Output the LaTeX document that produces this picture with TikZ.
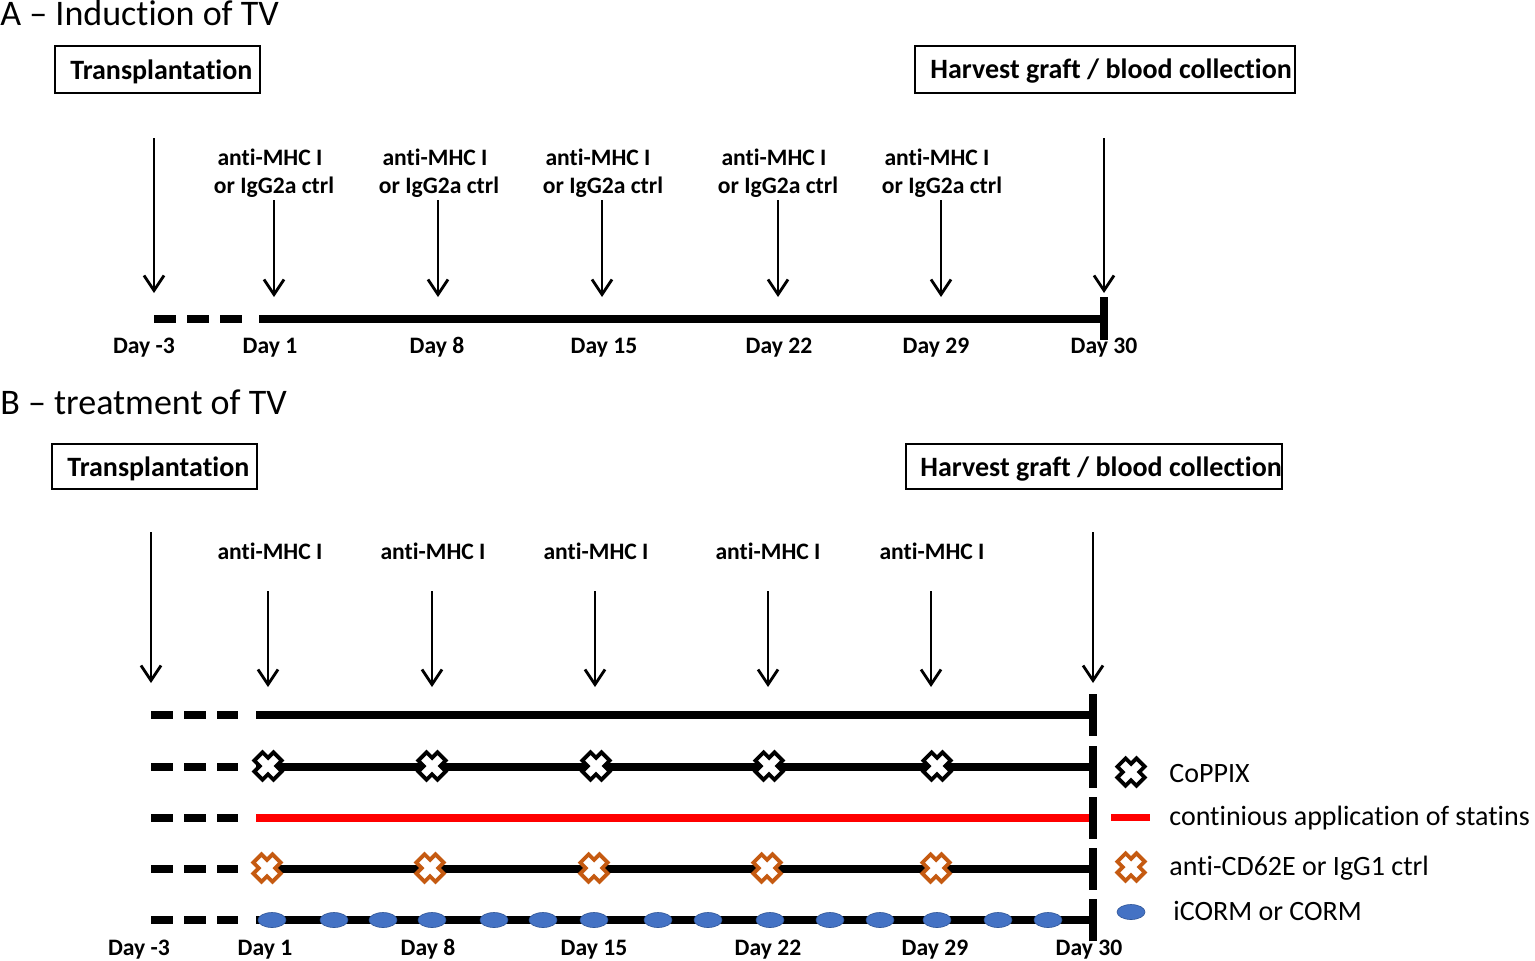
\documentclass[tikz,border=0pt]{standalone}
\usepackage{fontspec}
\setmainfont{Carlito}[Ligatures=NoCommon]
\usetikzlibrary{arrows.meta}
\definecolor{orng}{HTML}{C55A11}
\definecolor{blu}{HTML}{4472C4}
\definecolor{bluedge}{HTML}{2F5597}
\definecolor{statred}{HTML}{FF0000}
\tikzset{
  ttl/.style={font=\fontsize{18pt}{20pt}\selectfont, anchor=base west, inner sep=0},
  bx/.style={draw, line width=0.75pt, inner sep=0, minimum height=23.5pt},
  bxt/.style={font=\bfseries\fontsize{14pt}{16pt}\selectfont, anchor=base west, inner sep=0},
  lbl/.style={font=\bfseries\fontsize{11.8pt}{13pt}\selectfont, anchor=base, inner sep=0},
  leg/.style={font=\fontsize{14pt}{16pt}\selectfont, anchor=base west, inner sep=0},
  arr/.style={line width=1.1pt, -{Straight Barb[length=7.5pt,width=10pt,line width=1.4pt]}},
  tl/.style={line width=4pt},
  dsh/.style={line width=4pt, dash pattern=on 11pt off 5.5pt},
  tickmark/.style={line width=4pt},
  dot/.style={fill=blu, draw=bluedge, line width=0.3pt},
  xmk/.pic={\path[pic actions, line width=1.9pt, fill=white, rotate=45, line join=miter]
     (5.8,5.8) -- (5.8,13.5) -- (-5.8,13.5) -- (-5.8,5.8) -- (-13.5,5.8) -- (-13.5,-5.8)
     -- (-5.8,-5.8) -- (-5.8,-13.5) -- (5.8,-13.5) -- (5.8,-5.8) -- (13.5,-5.8) -- (13.5,5.8) -- cycle;}
}
\begin{document}
\begin{tikzpicture}[x=0.5pt,y=-0.5pt]
\useasboundingbox (0,0) rectangle (1535,960);

% ================= Panel A =================
\node[ttl] (tA) at (0,25) {A – Induction of TV};
\node[bx, minimum width=102.5pt] (trA) at (157.5,69.5) {};
\node[bxt] (trAt) at (70,79) {Transplantation};
\node[bx, minimum width=190pt] (hvA) at (1105,69.5) {};
\node[bxt] (hvAt) at (930,78) {Harvest graft / blood collection};

\coordinate (a0t) at (154,138); \coordinate (a0b) at (154,293);
\coordinate (a30t) at (1104,138); \coordinate (a30b) at (1104,293);
\draw[arr] (a0t) -- (a0b);
\draw[arr] (a30t) -- (a30b);

\foreach \i/\xa/\xl/\xo in {1/274/270/274, 2/438/435/439, 3/602/598/603, 4/778/774/778, 5/941/937/942}{
  \node[lbl] (mA\i) at (\xl,165) {anti-MHC I};
  \node[lbl] (oA\i) at (\xo,193) {or IgG2a ctrl};
  \coordinate (mAt\i) at (\xa,200);
  \coordinate (mAb\i) at (\xa,297);
  \draw[arr] (mAt\i) -- (mAb\i);
}

\coordinate (lAd0) at (154,319); \coordinate (lAd1) at (245,319);
\coordinate (lAs0) at (259,319); \coordinate (lAs1) at (1104,319);
\draw[dsh] (lAd0) -- (lAd1);
\draw[tl] (lAs0) -- (lAs1);
\draw[tickmark] (1104,297) -- (1104,340);

\foreach \i/\x/\t in {0/144/Day -3, 1/270/Day 1, 2/437/Day 8, 3/604/Day 15, 4/779/Day 22, 5/936/Day 29, 6/1104/Day 30}{
  \node[lbl] (dA\i) at (\x,353) {\t};
}

% ================= Panel B =================
\node[ttl] (tB) at (0,414) {B – treatment of TV};
\node[bx, minimum width=102.5pt, minimum height=22.5pt] (trB) at (154.5,466.5) {};
\node[bxt] (trBt) at (67,476) {Transplantation};
\node[bx, minimum width=188pt, minimum height=22.5pt] (hvB) at (1094,466.5) {};
\node[bxt] (hvBt) at (920,476) {Harvest graft / blood collection};

\coordinate (b0t) at (151,532); \coordinate (b0b) at (151,683);
\coordinate (b30t) at (1093,532); \coordinate (b30b) at (1093,683);
\draw[arr] (b0t) -- (b0b);
\draw[arr] (b30t) -- (b30b);

\foreach \i/\xa/\xl in {1/268/270, 2/432/433, 3/595/596, 4/768/768, 5/931/932}{
  \node[lbl] (mB\i) at (\xl,559) {anti-MHC I};
  \coordinate (mBt\i) at (\xa,591);
  \coordinate (mBb\i) at (\xa,687);
  \draw[arr] (mBt\i) -- (mBb\i);
}

% rows
\foreach \y/\c in {715/black, 767/black, 818/statred, 869/black, 920/black}{
  \draw[dsh] (151,\y) -- (238,\y);
  \draw[tl, draw=\c] (256,\y) -- (1093,\y);
  \draw[tickmark] (1093,\y-21) -- (1093,\y+21);
}

% markers
\foreach \x in {268,432,596,769,937}{ \pic[draw=black] at (\x,766) {xmk}; }
\foreach \x in {267,430,594,767,936}{ \pic[draw=orng] at (\x,868) {xmk}; }
\foreach \x in {272,334,383,432,494,543,594,658,708,770,830,880,937,998,1048}{
  \path[dot] (\x,920) ellipse [x radius=14, y radius=7.5];
}

% legend
\pic[draw=black] at (1131,772) {xmk};
\node[leg] (lg1) at (1169,782) {CoPPIX};
\draw[line width=3.5pt, statred] (1111,817) -- (1150,817);
\node[leg] (lg2) at (1169,825) {continious application of statins};
\pic[draw=orng] at (1131,867) {xmk};
\node[leg] (lg3) at (1169,875) {anti-CD62E or IgG1 ctrl};
\path[dot] (1131,912) ellipse [x radius=14, y radius=7.5];
\node[leg] (lg4) at (1173,920) {iCORM or CORM};

\foreach \i/\x/\t in {0/139/Day -3, 1/265/Day 1, 2/428/Day 8, 3/594/Day 15, 4/768/Day 22, 5/935/Day 29, 6/1089/Day 30}{
  \node[lbl] (dB\i) at (\x,955) {\t};
}
\end{tikzpicture}
\end{document}
